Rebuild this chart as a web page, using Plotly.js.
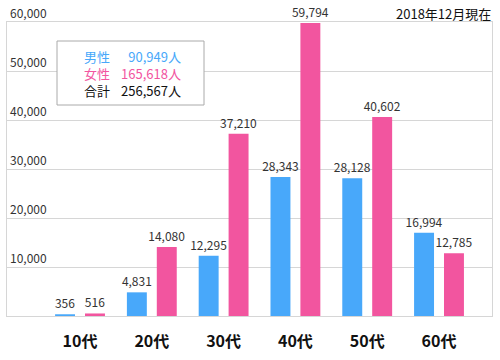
<!DOCTYPE html>
<html>
<head>
<meta charset="utf-8">
<script src="https://cdn.plot.ly/plotly-3.0.1.min.js"></script>
<style>html,body{margin:0;padding:0;background:#fff;}#chart{width:500px;height:360px;}</style>
</head>
<body>
<div id="chart"></div>
<script>
var categories = ['10代', '20代', '30代', '40代', '50代', '60代'];
var male = [356, 4831, 12295, 28343, 28128, 16994];
var female = [516, 14080, 37210, 59794, 40602, 12785];
var yTicks = [10000, 20000, 30000, 40000, 50000, 60000];
var legendLabels = ['男性', '女性', '合計'];
var legendValues = ['90,949人', '165,618人', '256,567人'];
var noteText = '2018年12月現在';

var FONT = '"Noto Sans CJK JP", "Noto Sans", sans-serif';
var BLUE = '#48A8FA', PINK = '#F2559F';
function fmt(v){ return v.toLocaleString('en-US'); }

var traces = [
  {type:'bar', name:'男性', x:categories, y:male, marker:{color:BLUE},
   text:male.map(fmt), textposition:'outside', cliponaxis:false, constraintext:'none',
   textfont:{family:FONT, size:12, color:'#333'}, hoverinfo:'none'},
  {type:'bar', name:'女性', x:categories, y:female, marker:{color:PINK},
   text:female.map(fmt), textposition:'outside', cliponaxis:false, constraintext:'none',
   textfont:{family:FONT, size:12, color:'#333'}, hoverinfo:'none'}
];

var legendColors = [BLUE, PINK, '#111'];
function colored(arr){
  return arr.map(function(t, i){ return '<span style="color:' + legendColors[i] + '">' + t + '</span>'; }).join('<br>');
}
var annotations = [];
var legY = (316 - 73.5) / 294;
annotations.push({xref:'paper', yref:'paper', x:(83-7)/485, y:legY, xanchor:'left', yanchor:'middle', align:'left',
  text:colored(legendLabels), showarrow:false, borderpad:0, font:{family:FONT, size:13, color:'#111'}});
annotations.push({xref:'paper', yref:'paper', x:(182-7)/485, y:legY, xanchor:'right', yanchor:'middle', align:'right',
  text:colored(legendValues), showarrow:false, borderpad:0, font:{family:FONT, size:13, color:'#111'}});
yTicks.forEach(function(v){
  annotations.push({xref:'paper', yref:'y', x:2/485, y:v, xanchor:'left', yanchor:'bottom',
    text:fmt(v), showarrow:false, borderpad:0, font:{family:FONT, size:12, color:'#333'}});
});
annotations.push({xref:'paper', yref:'paper', x:1, y:(316-13)/294, xanchor:'right', yanchor:'middle',
  text:noteText, showarrow:false, borderpad:0, font:{family:FONT, size:13, color:'#111'}});

var layout = {
  width:500, height:360,
  margin:{l:7, r:8, t:22, b:44},
  paper_bgcolor:'#fff', plot_bgcolor:'#fff',
  showlegend:false,
  barmode:'group', bargap:0.1667, bargroupgap:0.3333,
  font:{family:FONT},
  xaxis:{type:'category', range:[-1.017, 5.738], showgrid:false, zeroline:false,
    showline:true, mirror:true, linecolor:'#d6d6d6', linewidth:1,
    ticks:'', ticklabelstandoff:11,
    tickfont:{family:FONT, size:16, color:'#111', weight:'bold'}, fixedrange:true},
  yaxis:{range:[0, 60000], tickvals:yTicks, showticklabels:false,
    showgrid:true, gridcolor:'#d6d6d6', gridwidth:1,
    zeroline:false, showline:true, mirror:true, linecolor:'#d6d6d6', ticks:'', fixedrange:true},
  shapes:[{type:'rect', xref:'paper', yref:'paper', x0:(57-7)/485, x1:(204-7)/485,
    y0:(316-105)/294, y1:(316-41)/294, fillcolor:'#fff', line:{color:'#aaa', width:1}, layer:'above'}],
  annotations:annotations
};

Plotly.newPlot('chart', traces, layout, {displayModeBar:false, staticPlot:true});
</script>
</body>
</html>
